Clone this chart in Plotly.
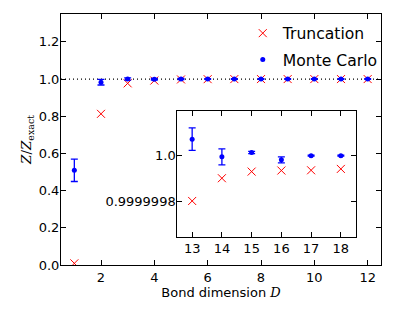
import plotly.graph_objects as go

# ---- data ----
D_main = [1, 2, 3, 4, 5, 6, 7, 8, 9, 10, 11, 12]
trunc_main = [0.009, 0.813, 0.977, 0.992, 0.998, 0.9995, 0.9999, 1.0, 1.0, 1.0, 1.0, 1.0]
mc_main = [0.509, 0.983, 1.0, 0.999, 1.0, 1.0, 1.0, 1.0, 1.0, 1.0, 1.0, 1.0]
mc_main_err = [0.06, 0.015, 0.006, 0.004, 0.003, 0.002, 0.002, 0.002, 0.002, 0.002, 0.002, 0.002]

D_inset = [13, 14, 15, 16, 17, 18]
trunc_inset = [0.999999803, 0.9999999024, 0.9999999313, 0.999999936, 0.999999937, 0.999999943]
mc_inset = [1.000000073, 0.9999999956, 1.0000000145, 0.9999999825, 1.000000001, 1.000000001]
mc_inset_err = [4.9e-8, 3.5e-8, 5e-9, 1.3e-8, 2.5e-9, 2e-9]

main_yticks = [0.0, 0.2, 0.4, 0.6, 0.8, 1.0, 1.2]
main_xticks = [2, 4, 6, 8, 10, 12]
inset_yticks = [0.9999998, 1.0]
inset_yticktext = ["0.9999998", "1.0"]

RED = "#ff0000"
BLUE = "#0000ff"
FONT = "DejaVu Sans"

fig = go.Figure()

fig.add_trace(go.Scatter(
    x=D_main, y=trunc_main, mode="markers", name="Truncation",
    marker=dict(symbol="x-thin", size=8, line=dict(color=RED, width=1), color=RED),
    xaxis="x", yaxis="y", legendgroup="a"))
fig.add_trace(go.Scatter(
    x=D_main, y=mc_main, mode="markers", name="Monte Carlo",
    marker=dict(symbol="circle", size=5, color=BLUE),
    error_y=dict(type="data", array=mc_main_err, color=BLUE, thickness=1.3, width=3.5),
    xaxis="x", yaxis="y", legendgroup="b"))

fig.add_trace(go.Scatter(
    x=D_inset, y=trunc_inset, mode="markers", showlegend=False,
    marker=dict(symbol="x-thin", size=8, line=dict(color=RED, width=1), color=RED),
    xaxis="x2", yaxis="y2"))
fig.add_trace(go.Scatter(
    x=D_inset, y=mc_inset, mode="markers", showlegend=False,
    marker=dict(symbol="circle", size=5, color=BLUE),
    error_y=dict(type="data", array=mc_inset_err, color=BLUE, thickness=1.3, width=3.5),
    xaxis="x2", yaxis="y2"))

axis_common = dict(
    showline=True, linecolor="black", linewidth=1, mirror="allticks",
    ticks="inside", ticklen=5, tickwidth=1, tickcolor="black",
    showgrid=False, zeroline=False,
    tickfont=dict(family=FONT, size=13, color="black"),
)

fig.update_layout(
    width=395, height=316,
    margin=dict(l=61, r=14, t=14, b=51),
    paper_bgcolor="white", plot_bgcolor="white",
    font=dict(family=FONT, size=13, color="black"),
    xaxis=dict(range=[0.5, 12.5], tickvals=main_xticks, domain=[0, 1],
               title=dict(text="Bond dimension <i><span style='font-family:DejaVu Serif'>D</span></i>",
                          font=dict(family=FONT, size=13), standoff=2),
               **axis_common),
    yaxis=dict(range=[0, 1.35], tickvals=main_yticks, tickformat=".1f", domain=[0, 1],
               ticklabelstandoff=-2,
               title=dict(text="<span style='font-family:DejaVu Serif'><i>Z</i>/<i>Z</i><sub>exact</sub></span>",
                          font=dict(family=FONT, size=13.5), standoff=3),
               **axis_common),
    xaxis2=dict(range=[12.5, 18.5], tickvals=D_inset, domain=[0.3634, 0.921], anchor="y2",
                **axis_common),
    yaxis2=dict(range=[0.999999647, 1.000000198], tickvals=inset_yticks, ticktext=inset_yticktext,
                ticklabelstandoff=-2,
                domain=[0.1127, 0.6155], anchor="x2", **axis_common),
    legend=dict(x=0.568, y=0.99, xanchor="left", yanchor="top",
                bgcolor="rgba(0,0,0,0)", borderwidth=0,
                font=dict(family=FONT, size=15.6, color="black"),
                traceorder="grouped", tracegroupgap=3, itemwidth=30),
    showlegend=True,
)

dot_line = dict(color="black", width=1.3, dash="1px,3px")
fig.add_shape(type="line", xref="x domain", yref="y", x0=0, x1=1, y0=1.0, y1=1.0,
              line=dot_line, layer="below")
fig.add_shape(type="line", xref="x2 domain", yref="y2", x0=0, x1=1, y0=1.0, y1=1.0,
              line=dot_line, layer="below")

fig.write_html("out.html", config={"displayModeBar": False},
               post_script="document.body.style.margin='0';")
